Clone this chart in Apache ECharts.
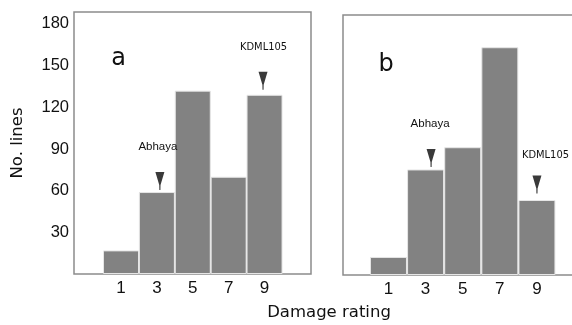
<!DOCTYPE html>
<html>
<head>
<meta charset="utf-8">
<script src="https://cdn.jsdelivr.net/npm/echarts@6/dist/echarts.min.js"></script>
<style>html,body{margin:0;padding:0;background:#fff}#c{width:572px;height:325px}</style>
</head>
<body>
<div id="c"></div>
<script>
// Data
var ratings = [1, 3, 5, 7, 9];
var linesA = [17, 59, 132, 70, 129];
var linesB = [13, 76, 92, 164, 54];
var yTickValues = [30, 60, 90, 120, 150, 180];
var annotNames = ['Abhaya', 'KDML105'];
var annotRatings = [3, 9];

var tickFont = '"Liberation Sans", sans-serif';
var cond = '"DejaVu Sans Condensed", "Liberation Sans", sans-serif';
var wide = '"DejaVu Sans", sans-serif';
var arrowPath = 'path://M0,0L10,0L5.7,13L5.6,18L4.4,18L4.3,13Z';

function pairs(vals) { return ratings.map(function (r, i) { return [r, vals[i]]; }); }
function valOf(vals, r) { return vals[ratings.indexOf(r)]; }

function marks(vals, cfg) {
  var out = [];
  annotNames.forEach(function (n, i) {
    var r = annotRatings[i], v = valOf(vals, r), c = cfg[i];
    out.push({ coord: [r, v], symbol: arrowPath, symbolSize: [9, 18], symbolOffset: c.arrow,
      itemStyle: { color: '#3a3a3a' }, label: { show: false } });
    out.push({ coord: [r, v], symbol: 'circle', symbolSize: 0,
      label: { show: true, formatter: n, position: 'inside', offset: c.text, color: '#111',
        fontFamily: c.font, fontSize: c.size, fontWeight: c.weight || 'normal' } });
  });
  return out;
}

var chart = echarts.init(document.getElementById('c'), null, { renderer: 'canvas' });
var gridStyle = { show: true, borderColor: '#8c8c8c', borderWidth: 1.5, backgroundColor: 'transparent', containLabel: false, outerBoundsMode: 'none' };

function xAx(idx, min, max) {
  return { type: 'value', gridIndex: idx, min: min, max: max, splitLine: { show: false },
    axisLine: { show: false }, axisTick: { show: false },
    axisLabel: { customValues: ratings, margin: 6, color: '#111', fontFamily: tickFont, fontSize: 17 } };
}
function yAx(idx, max, showLabels) {
  return { type: 'value', gridIndex: idx, min: 0, max: max, splitLine: { show: false },
    axisLine: { show: false }, axisTick: { show: false },
    axisLabel: { show: showLabels, customValues: yTickValues, margin: 5, color: '#111', fontFamily: tickFont, fontSize: 16.5 },
    name: showLabels ? 'No. lines' : '', nameLocation: 'middle', nameGap: 48,
    nameTextStyle: { fontFamily: wide, fontSize: 16.5, color: '#111' } };
}

var barStyle = { color: '#828282', borderColor: '#e6e6e6', borderWidth: 1 };

chart.setOption({
  animation: false,
  grid: [
    Object.assign({ left: 74, top: 12, width: 237, height: 262 }, gridStyle),
    Object.assign({ left: 343, top: 15, right: -3, height: 260 }, gridStyle)
  ],
  xAxis: [xAx(0, -1.62, 11.59), xAx(1, -1.45, 11.05)],
  yAxis: [yAx(0, 188.6, true), yAx(1, 187.2, false)],
  series: [
    { type: 'bar', xAxisIndex: 0, yAxisIndex: 0, data: pairs(linesA), barWidth: 36, itemStyle: barStyle,
      markPoint: { data: marks(linesA, [
        { arrow: [3, -11], text: [1, -45], font: '"Liberation Sans", sans-serif', size: 11.5 },
        { arrow: [-1.5, -14], text: [-1, -47.5], font: cond, size: 11 }]) } },
    { type: 'bar', xAxisIndex: 1, yAxisIndex: 1, data: pairs(linesB), barWidth: 37, itemStyle: barStyle,
      markPoint: { data: marks(linesB, [
        { arrow: [5.5, -11.5], text: [4.5, -45.5], font: '"Liberation Sans", sans-serif', size: 11.5 },
        { arrow: [0, -15.5], text: [8.5, -44.5], font: cond, size: 11 }]) } }
  ],
  graphic: [
    { type: 'text', x: 118.5, y: 59, style: { text: 'a', fontFamily: wide, fontSize: 24, fill: '#111', align: 'center', verticalAlign: 'middle' } },
    { type: 'text', x: 386, y: 65, style: { text: 'b', fontFamily: wide, fontSize: 24, fill: '#111', align: 'center', verticalAlign: 'middle' } },
    { type: 'text', x: 329, y: 313, style: { text: 'Damage rating', fontFamily: wide, fontSize: 16.5, fill: '#111', align: 'center', verticalAlign: 'middle' } }
  ]
});
</script>
</body>
</html>
